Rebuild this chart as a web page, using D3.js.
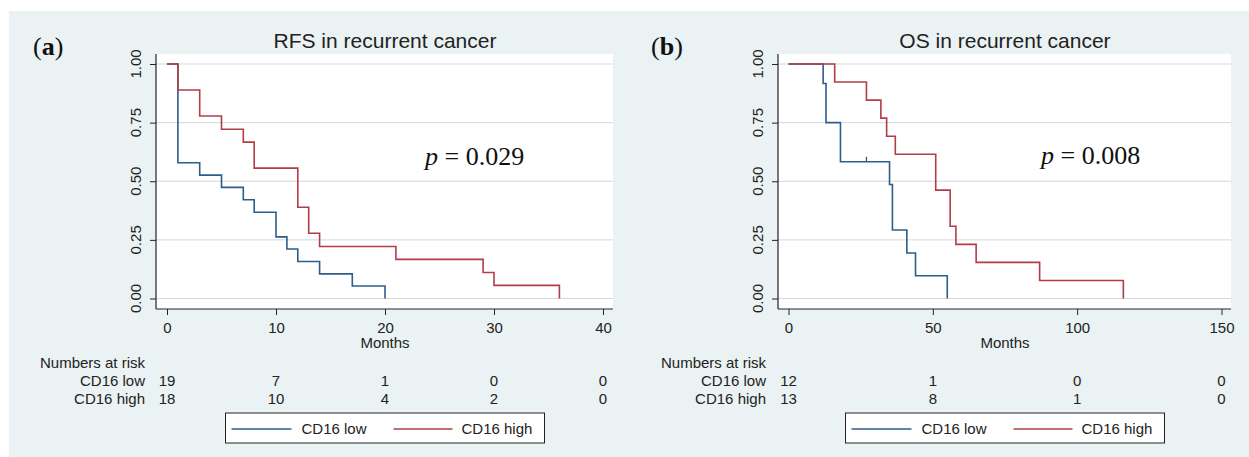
<!DOCTYPE html>
<html>
<head>
<meta charset="utf-8">
<script src="https://cdn.jsdelivr.net/npm/d3@7"></script>
<style>
  html, body { margin: 0; padding: 0; background: #ffffff; }
  svg { display: block; font-family: "Liberation Sans", Arial, sans-serif; }
</style>
</head>
<body>
<svg id="chart" width="1249" height="457"></svg>
<script>
// ---------------- DATA ----------------
const panelLabels = ["(a)", "(b)"];
const panelTitles = ["RFS in recurrent cancer", "OS in recurrent cancer"];
const pValues = ["0.029", "0.008"];
const seriesNames = ["CD16 low", "CD16 high"];

// Panel (a): RFS Kaplan–Meier steps
const rfsLowTimes  = [0, 1, 3, 5, 7, 8, 10, 11, 12, 14, 17, 20];
const rfsLowSurv   = [1, 0.579, 0.526, 0.474, 0.421, 0.368, 0.263, 0.211, 0.158, 0.105, 0.053, 0];
const rfsHighTimes = [0, 1, 3, 5, 7, 8, 12, 13, 14, 21, 29, 30, 36];
const rfsHighSurv  = [1, 0.889, 0.778, 0.722, 0.667, 0.556, 0.389, 0.278, 0.222, 0.167, 0.111, 0.056, 0];

// Panel (b): OS Kaplan–Meier steps
const osLowTimes  = [0, 12, 13, 18, 35, 36, 41, 44, 55];
const osLowSurv   = [1, 0.917, 0.75, 0.583, 0.486, 0.292, 0.194, 0.097, 0];
const osLowCensorTimes = [27];
const osLowCensorSurv  = [0.583];
const osHighTimes = [0, 16, 27, 32, 34, 37, 51, 56, 58, 65, 87, 116];
const osHighSurv  = [1, 0.923, 0.846, 0.769, 0.692, 0.615, 0.462, 0.308, 0.231, 0.154, 0.077, 0];

// Axis ticks
const yTicks = [0, 0.25, 0.5, 0.75, 1];
const rfsXTicks = [0, 10, 20, 30, 40];
const osXTicks = [0, 50, 100, 150];

// Numbers at risk
const rfsRiskLow  = [19, 7, 1, 0, 0];
const rfsRiskHigh = [18, 10, 4, 2, 0];
const osRiskLow   = [12, 1, 0, 0];
const osRiskHigh  = [13, 8, 1, 0];

// ---------------- LAYOUT / STYLE ----------------
const colors = ["#2d5d8b", "#b23d47"];
const bgColor = "#eaf2f3";
const serif = "'Liberation Serif', 'Times New Roman', serif";
const sans = "'Liberation Sans', Arial, sans-serif";

const panels = [
  {
    label: panelLabels[0], title: panelTitles[0], p: pValues[0],
    xDomain: [0, 40], xTicks: rfsXTicks,
    xRange: [167, 603], plotX: [156, 613],
    labelX: 33, riskLabelRight: 145, yLabelX: 136, pX: 425, pY: 165,
    series: [
      { t: rfsLowTimes, s: rfsLowSurv, ct: [], cs: [] },
      { t: rfsHighTimes, s: rfsHighSurv, ct: [], cs: [] }
    ],
    risk: [rfsRiskLow, rfsRiskHigh]
  },
  {
    label: panelLabels[1], title: panelTitles[1], p: pValues[1],
    xDomain: [0, 150], xTicks: osXTicks,
    xRange: [788.5, 1221.5], plotX: [778, 1231],
    labelX: 651, riskLabelRight: 766, yLabelX: 758, pX: 1041, pY: 164,
    series: [
      { t: osLowTimes, s: osLowSurv, ct: osLowCensorTimes, cs: osLowCensorSurv },
      { t: osHighTimes, s: osHighSurv, ct: [], cs: [] }
    ],
    risk: [osRiskLow, osRiskHigh]
  }
];

const plotTop = 54, plotBottom = 309;
const yRange = [298.5, 64];

const svg = d3.select("#chart");

// global background
svg.append("rect").attr("x", 9).attr("y", 11).attr("width", 1240).attr("height", 446)
  .attr("fill", bgColor);

panels.forEach(P => {
  const x = d3.scaleLinear().domain(P.xDomain).range(P.xRange);
  const y = d3.scaleLinear().domain([0, 1]).range(yRange);
  const g = svg.append("g");

  // plot region
  g.append("rect")
    .attr("x", P.plotX[0]).attr("y", plotTop)
    .attr("width", P.plotX[1] - P.plotX[0]).attr("height", plotBottom - plotTop)
    .attr("fill", "#ffffff");

  // gridlines
  g.selectAll(".grid").data(yTicks).join("line")
    .attr("x1", P.plotX[0]).attr("x2", P.plotX[1])
    .attr("y1", d => y(d)).attr("y2", d => y(d))
    .attr("stroke", "#d3d9db").attr("stroke-width", 1);

  // y axis
  const yAxis = d3.axisLeft(y).tickValues(yTicks).tickSize(6).tickFormat("");
  const ya = g.append("g").attr("transform", `translate(${P.plotX[0]},0)`).call(yAxis);
  ya.select(".domain").remove();
  ya.selectAll(".tick line").attr("stroke", "#222").attr("stroke-width", 1);
  g.append("line").attr("x1", P.plotX[0]).attr("x2", P.plotX[0])
    .attr("y1", plotTop).attr("y2", plotBottom).attr("stroke", "#222").attr("stroke-width", 1.2);
  g.selectAll(".ylab").data(yTicks).join("text")
    .attr("transform", d => `translate(${P.yLabelX},${y(d)}) rotate(-90)`)
    .attr("text-anchor", "middle").attr("dy", "0.36em")
    .style("font-family", sans).style("font-size", "15px").attr("fill", "#222")
    .text(d => d3.format(".2f")(d));

  // x axis
  const xAxis = d3.axisBottom(x).tickValues(P.xTicks).tickSize(6).tickFormat(d3.format("d"));
  const xa = g.append("g").attr("transform", `translate(0,${plotBottom})`).call(xAxis);
  xa.attr("font-family", null).attr("font-size", null);
  xa.select(".domain").remove();
  xa.selectAll(".tick line").attr("stroke", "#222").attr("stroke-width", 1);
  xa.selectAll(".tick text").style("font-family", sans).style("font-size", "15px").attr("fill", "#222")
    .attr("y", 24).attr("dy", 0);
  g.append("line").attr("x1", P.plotX[0]).attr("x2", P.plotX[1])
    .attr("y1", plotBottom).attr("y2", plotBottom).attr("stroke", "#222").attr("stroke-width", 1.2);

  const xMid = (P.xRange[0] + P.xRange[1]) / 2;
  g.append("text").attr("x", xMid).attr("y", 348).attr("text-anchor", "middle")
    .style("font-family", sans).style("font-size", "15px").attr("fill", "#222").text("Months");

  // title
  g.append("text").attr("x", xMid).attr("y", 48).attr("text-anchor", "middle")
    .style("font-family", sans).style("font-size", "21px").attr("fill", "#222").text(P.title);

  // panel label
  const lab = g.append("text").attr("x", P.labelX).attr("y", 55)
    .style("font-family", serif).style("font-size", "26px").attr("fill", "#111");
  lab.append("tspan").text("(");
  lab.append("tspan").style("font-weight", "bold").text(P.label.replace(/[()]/g, ""));
  lab.append("tspan").text(")");

  // p value
  const pt = g.append("text").attr("x", P.pX).attr("y", P.pY)
    .style("font-family", serif).style("font-size", "26px").attr("fill", "#111");
  pt.append("tspan").style("font-style", "italic").text("p");
  pt.append("tspan").text(" = " + P.p);

  // KM curves
  const line = d3.line().x(d => x(d[0])).y(d => y(d[1])).curve(d3.curveStepAfter);
  P.series.forEach((S, i) => {
    const pts = S.t.map((t, k) => [t, S.s[k]]);
    g.append("path").datum(pts).attr("d", line)
      .attr("fill", "none").attr("stroke", colors[i]).attr("stroke-width", 1.6);
    S.ct.forEach((c, k) => {
      g.append("line").attr("x1", x(c)).attr("x2", x(c))
        .attr("y1", y(S.cs[k]) - 5).attr("y2", y(S.cs[k]))
        .attr("stroke", colors[i]).attr("stroke-width", 1.3);
    });
  });

  // numbers at risk
  g.append("text").attr("x", P.riskLabelRight).attr("y", 368).attr("text-anchor", "end")
    .style("font-family", sans).style("font-size", "15px").attr("fill", "#222").text("Numbers at risk");
  const rowY = [386, 404];
  P.risk.forEach((arr, r) => {
    g.append("text").attr("x", P.riskLabelRight).attr("y", rowY[r]).attr("text-anchor", "end")
      .style("font-family", sans).style("font-size", "15px").attr("fill", "#222").text(seriesNames[r]);
    g.selectAll(".risk" + r).data(arr).join("text")
      .attr("x", (d, k) => x(P.xTicks[k])).attr("y", rowY[r]).attr("text-anchor", "middle")
      .style("font-family", sans).style("font-size", "15px").attr("fill", "#222").text(d => d);
  });

  // legend
  const lw = 319, lx = xMid - lw / 2;
  const lg = g.append("g").attr("transform", `translate(${lx},413)`);
  lg.append("rect").attr("x", 0).attr("y", 0).attr("width", lw).attr("height", 30)
    .attr("fill", "#ffffff").attr("stroke", "#222").attr("stroke-width", 1);
  const items = [{ x0: 6, x1: 66, tx: 76 }, { x0: 168, x1: 227, tx: 236 }];
  items.forEach((it, i) => {
    lg.append("line").attr("x1", it.x0).attr("x2", it.x1).attr("y1", 16).attr("y2", 16)
      .attr("stroke", colors[i]).attr("stroke-width", 1.6);
    lg.append("text").attr("x", it.tx).attr("y", 21)
      .style("font-family", sans).style("font-size", "15px")
      .attr("fill", "#222").text(seriesNames[i]);
  });
});
</script>
</body>
</html>
